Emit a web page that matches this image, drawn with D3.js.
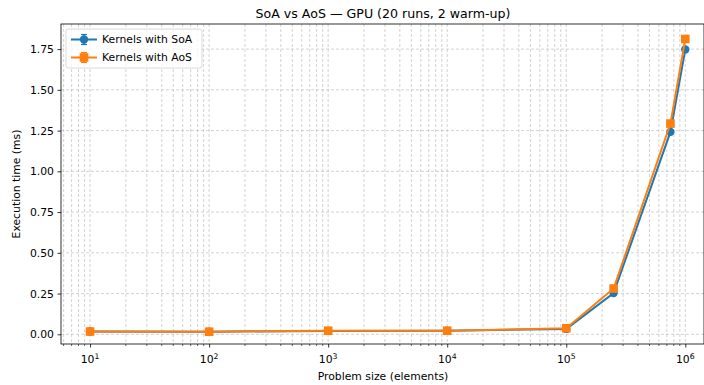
<!DOCTYPE html>
<html>
<head>
<meta charset="utf-8">
<script src="https://cdn.jsdelivr.net/npm/d3@7"></script>
<style>
  html, body { margin: 0; padding: 0; background: #fff; }
  svg { display: block; font-family: "DejaVu Sans", sans-serif; }
</style>
</head>
<body>
<svg id="chart" width="704" height="385"></svg>
<script>
// Problem sizes (elements) and mean execution times (ms) over 20 runs
const sizes = [10, 100, 1000, 10000, 100000, 250000, 750000, 1000000];
const soaTimes = [0.017, 0.016, 0.021, 0.022, 0.033, 0.253, 1.242, 1.748];
const soaErr   = [0.001, 0.001, 0.001, 0.001, 0.002, 0.004, 0.006, 0.008];
const aosTimes = [0.017, 0.016, 0.022, 0.022, 0.037, 0.281, 1.293, 1.812];
const aosErr   = [0.001, 0.001, 0.001, 0.001, 0.002, 0.004, 0.006, 0.008];
const yTicks = [0, 0.25, 0.5, 0.75, 1.0, 1.25, 1.5, 1.75];
const xTicks = [10, 100, 1000, 10000, 100000, 1000000];
const seriesNames = ["Kernels with SoA", "Kernels with AoS"];
const seriesColors = ["#1f77b4", "#ff7f0e"];

const svg = d3.select("#chart");
const plot = { left: 61, right: 704, top: 24, bottom: 344 };
const fs = 10.8;

const x = d3.scaleLog()
  .domain([Math.pow(10, 0.756), Math.pow(10, 6.157)])
  .range([plot.left, plot.right]);
const y = d3.scaleLinear()
  .domain([-0.0595, 1.904])
  .range([plot.bottom, plot.top]);

// Minor x positions (2..9 × 10^k) inside the visible range
const minorX = [];
for (let k = 0; k <= 6; k++) {
  for (let m = 2; m <= 9; m++) {
    const v = m * Math.pow(10, k);
    if (v > x.domain()[0] && v < x.domain()[1]) minorX.push(v);
  }
}

// Grid
const grid = svg.append("g").attr("stroke", "#b0b0b0").attr("stroke-opacity", 0.7)
  .attr("stroke-width", 0.8).attr("stroke-dasharray", "3,2").attr("fill", "none");
grid.selectAll(".gxm").data(minorX).join("line")
  .attr("x1", d => x(d)).attr("x2", d => x(d))
  .attr("y1", plot.top).attr("y2", plot.bottom);
grid.selectAll(".gx").data(xTicks).join("line")
  .attr("x1", d => x(d)).attr("x2", d => x(d))
  .attr("y1", plot.top).attr("y2", plot.bottom);
grid.selectAll(".gy").data(yTicks).join("line")
  .attr("x1", plot.left).attr("x2", plot.right)
  .attr("y1", d => y(d)).attr("y2", d => y(d));

// Axes
const xAxis = d3.axisBottom(x).tickValues(xTicks).tickSize(3.5).tickFormat("");
const gx = svg.append("g").attr("transform", `translate(0,${plot.bottom})`).call(xAxis);
gx.select(".domain").remove();
gx.selectAll(".tick line").attr("stroke", "#000").attr("stroke-width", 0.8);
svg.append("g").attr("transform", `translate(0,${plot.bottom})`)
  .selectAll("line").data(minorX).join("line")
  .attr("x1", d => x(d)).attr("x2", d => x(d)).attr("y1", 0).attr("y2", 2)
  .attr("stroke", "#000").attr("stroke-width", 0.6);

// Power-of-ten tick labels
const xl = svg.append("g").selectAll("text").data(xTicks).join("text")
  .attr("x", d => x(d)).attr("y", 363).attr("text-anchor", "middle")
  .attr("font-size", fs).attr("fill", "#000");
xl.append("tspan").text("10");
xl.append("tspan").attr("dy", -4.5).attr("font-size", 7.7)
  .text(d => String(Math.round(Math.log10(d))));

const yAxis = d3.axisLeft(y).tickValues(yTicks).tickSize(3.5).tickPadding(3.5)
  .tickFormat(d3.format(".2f"));
const gy = svg.append("g").attr("transform", `translate(${plot.left},0)`).call(yAxis);
gy.select(".domain").remove();
gy.selectAll(".tick line").attr("stroke", "#000").attr("stroke-width", 0.8);
gy.selectAll(".tick text").attr("font-size", fs).attr("fill", "#000")
  .attr("font-family", "DejaVu Sans, sans-serif");

// Frame
svg.append("rect").attr("x", plot.left).attr("y", plot.top)
  .attr("width", plot.right - plot.left).attr("height", plot.bottom - plot.top)
  .attr("fill", "none").attr("stroke", "#000").attr("stroke-width", 0.8);

// Series
const series = [
  { name: seriesNames[0], color: seriesColors[0], vals: soaTimes, err: soaErr, marker: "circle" },
  { name: seriesNames[1], color: seriesColors[1], vals: aosTimes, err: aosErr, marker: "square" }
];
const line = d3.line().x(d => x(d[0])).y(d => y(d[1]));
svg.append("clipPath").attr("id", "clip").append("rect")
  .attr("x", plot.left).attr("y", plot.top)
  .attr("width", plot.right - plot.left).attr("height", plot.bottom - plot.top);

function drawMarker(g, type, cx, cy, color) {
  if (type === "circle") {
    g.append("circle").attr("cx", cx).attr("cy", cy).attr("r", 4.2).attr("fill", color);
  } else {
    g.append("rect").attr("x", cx - 4.3).attr("y", cy - 4.3)
      .attr("width", 8.6).attr("height", 8.6).attr("fill", color);
  }
}

series.forEach(s => {
  const g = svg.append("g").attr("clip-path", "url(#clip)");
  const pts = sizes.map((v, i) => [v, s.vals[i], s.err[i]]);
  // error bars with caps
  pts.forEach(p => {
    const cx = x(p[0]);
    g.append("line").attr("x1", cx).attr("x2", cx)
      .attr("y1", y(p[1] - p[2])).attr("y2", y(p[1] + p[2]))
      .attr("stroke", s.color).attr("stroke-width", 1.5);
    [p[1] - p[2], p[1] + p[2]].forEach(v => {
      g.append("line").attr("x1", cx - 3).attr("x2", cx + 3)
        .attr("y1", y(v)).attr("y2", y(v))
        .attr("stroke", s.color).attr("stroke-width", 1.2);
    });
  });
  g.append("path").datum(pts).attr("d", line)
    .attr("fill", "none").attr("stroke", s.color).attr("stroke-width", 2);
  pts.forEach(p => drawMarker(g, s.marker, x(p[0]), y(p[1]), s.color));
});

// Legend
const lg = svg.append("g").attr("transform", "translate(66,29)");
lg.append("rect").attr("x", 0).attr("y", 0).attr("width", 136).attr("height", 39)
  .attr("rx", 2.5).attr("fill", "#fff").attr("fill-opacity", 0.8)
  .attr("stroke", "#d0d0d0").attr("stroke-width", 0.8);
series.forEach((s, i) => {
  const cy = 10.5 + i * 18;
  const e = lg.append("g");
  e.append("line").attr("x1", 5).attr("x2", 31).attr("y1", cy).attr("y2", cy)
    .attr("stroke", s.color).attr("stroke-width", 2);
  e.append("line").attr("x1", 18).attr("x2", 18).attr("y1", cy - 5).attr("y2", cy + 5)
    .attr("stroke", s.color).attr("stroke-width", 1.5);
  [cy - 5, cy + 5].forEach(v => e.append("line").attr("x1", 15).attr("x2", 21)
    .attr("y1", v).attr("y2", v).attr("stroke", s.color).attr("stroke-width", 1.2));
  drawMarker(e, s.marker, 18, cy, s.color);
  e.append("text").attr("x", 36).attr("y", cy + 3.9).attr("font-size", fs)
    .attr("fill", "#000").text(s.name);
});

// Titles
svg.append("text").attr("x", 383).attr("y", 18).attr("text-anchor", "middle")
  .attr("font-size", 12.6).attr("fill", "#000").text("SoA vs AoS — GPU (20 runs, 2 warm-up)");
svg.append("text").attr("x", 383).attr("y", 380).attr("text-anchor", "middle")
  .attr("font-size", fs).attr("fill", "#000").text("Problem size (elements)");
svg.append("text").attr("transform", "translate(20,184) rotate(-90)")
  .attr("text-anchor", "middle").attr("font-size", fs).attr("fill", "#000")
  .text("Execution time (ms)");
</script>
</body>
</html>
